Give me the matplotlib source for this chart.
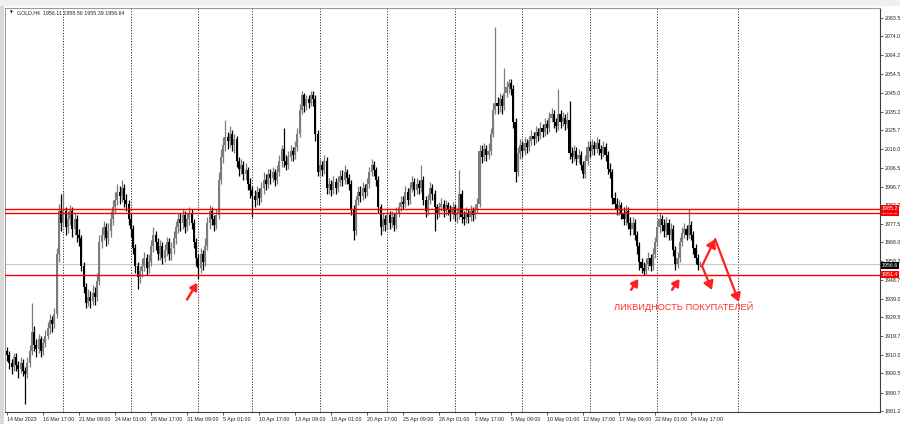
""" gold_h4.py """

import numpy as np
import matplotlib
matplotlib.use('Agg')
import matplotlib.pyplot as plt
import matplotlib.transforms as mtransforms

plt.rcParams['font.family'] = ['Liberation Sans', 'DejaVu Sans']

# H4 bars, 14 Mar 2023 01:00 .. 25 May 2023 (bar index = position on axis)
first_open = 1912
closes = [
    1910, 1906, 1904, 1909, 1905, 1903, 1906, 1902, 1900, 1906,
    1912, 1922, 1915, 1913, 1918, 1912, 1916, 1920, 1924, 1928,
    1926, 1931, 1962, 1984, 1978, 1984, 1976, 1980, 1984, 1975,
    1980, 1972, 1970, 1956, 1945, 1937, 1940, 1938, 1942, 1940,
    1948, 1968, 1972, 1976, 1970, 1974, 1980, 1986, 1990, 1994,
    1992, 1996, 1990, 1988, 1980, 1975, 1965, 1956, 1950, 1953,
    1956, 1960, 1955, 1958, 1966, 1972, 1968, 1962, 1966, 1960,
    1964, 1968, 1962, 1965, 1970, 1976, 1980, 1978, 1982, 1976,
    1980, 1983, 1978, 1968, 1960, 1955, 1962, 1958, 1966, 1978,
    1984, 1980, 1977, 1982, 2000, 2012, 2018, 2022, 2020, 2024,
    2018, 2021, 2010, 2006, 2008, 2003, 2005, 1998, 1995, 1992,
    1990, 1994, 1991, 1996, 2000, 1998, 2003, 2001, 2004, 2000,
    2004, 2010, 2016, 2010, 2008, 2012, 2015, 2013, 2017, 2024,
    2036, 2044, 2038, 2042, 2040, 2044, 2042, 2024, 2004, 2008,
    2005, 2010, 1996, 1998, 1995, 1999, 1996, 1999, 2002, 2000,
    2004, 2001, 1998, 1985, 1974, 1990, 1994, 1992, 1996, 1994,
    1998, 2004, 2008, 2005, 2000, 1986, 1976, 1980, 1977, 1982,
    1978, 1981, 1977, 1983, 1986, 1989, 1988, 1994, 1990, 1996,
    1999, 1995, 1998, 1996, 2000, 1990, 1984, 1990, 1996, 1993,
    1986, 1983, 1986, 1988, 1984, 1987, 1985, 1983, 1986, 1982,
    1983, 1993, 1981, 1980, 1983, 1981, 1984, 1982, 1985, 1988,
    2015, 2012, 2016, 2013, 2015, 2024, 2036, 2040, 2038, 2042,
    2038, 2045, 2048, 2050, 2047, 2030, 2004, 2014, 2018, 2015,
    2019, 2017, 2020, 2023, 2021, 2025, 2023, 2027, 2025, 2029,
    2027, 2032, 2034, 2030, 2028, 2034, 2030, 2032, 2029, 2031,
    2014, 2012, 2015, 2011, 2013, 2008, 2003, 2010, 2017, 2015,
    2018, 2016, 2019, 2016, 2014, 2017, 2013, 2006, 2004, 1991,
    1988, 1985, 1987, 1983, 1980, 1984, 1978, 1975, 1978, 1972,
    1966, 1958, 1955, 1953, 1957, 1960, 1956, 1962, 1968, 1976,
    1980, 1977, 1974, 1978, 1972, 1975, 1964, 1957, 1960, 1968,
    1973, 1975, 1972, 1977, 1972, 1965, 1960, 1956.11, 1956.64,
]
highs = [
    1914, 1912, 1908, 1911, 1911, 1907, 1909, 1908, 1904, 1909,
    1915, 1937, 1925, 1918, 1921, 1920, 1919, 1923, 1927, 1931,
    1930, 1934, 1965, 1988, 1993, 1994, 1986, 1984, 1987, 1986,
    1983, 1982, 1975, 1972, 1958, 1947, 1944, 1943, 1946, 1945,
    1952, 1972, 1976, 1979, 1978, 1978, 1984, 1990, 1994, 1998,
    1997, 2000, 1998, 1993, 1990, 1983, 1977, 1967, 1958, 1956,
    1960, 1963, 1962, 1962, 1969, 1976, 1974, 1970, 1969, 1968,
    1967, 1971, 1970, 1968, 1974, 1979, 1983, 1983, 1985, 1984,
    1983, 1986, 1985, 1980, 1970, 1962, 1965, 1964, 1970, 1981,
    1987, 1986, 1982, 1985, 2004, 2016, 2022, 2031, 2025, 2028,
    2026, 2024, 2023, 2012, 2011, 2010, 2009, 2007, 2001, 1997,
    1995, 1997, 1996, 1999, 2004, 2003, 2006, 2006, 2007, 2006,
    2008, 2013, 2018, 2027, 2013, 2015, 2018, 2017, 2020, 2027,
    2039, 2046, 2045, 2044, 2044, 2046, 2046, 2044, 2026, 2011,
    2010, 2013, 2012, 2001, 2000, 2002, 2001, 2002, 2005, 2005,
    2008, 2006, 2003, 2000, 1987, 1992, 1997, 1997, 1999, 1998,
    2001, 2007, 2011, 2010, 2007, 2002, 1988, 1983, 1982, 1985,
    1984, 1984, 1983, 1986, 1989, 1992, 1992, 1997, 1996, 1999,
    2002, 2001, 2001, 2000, 2008, 2002, 1992, 1993, 1999, 1998,
    1995, 1988, 1989, 1991, 1990, 1990, 1989, 1987, 1989, 1988,
    1986, 2005, 1995, 1984, 1986, 1985, 1987, 1986, 1988, 1991,
    2018, 2018, 2019, 2018, 2019, 2027, 2040, 2079, 2043, 2045,
    2044, 2058, 2051, 2052, 2052, 2049, 2032, 2017, 2021, 2020,
    2022, 2021, 2023, 2026, 2025, 2028, 2027, 2030, 2029, 2032,
    2031, 2035, 2037, 2036, 2032, 2047, 2036, 2035, 2034, 2035,
    2041, 2017, 2018, 2017, 2016, 2015, 2010, 2013, 2020, 2020,
    2021, 2020, 2022, 2021, 2018, 2020, 2019, 2015, 2009, 2006,
    1994, 1991, 1990, 1989, 1986, 1987, 1986, 1981, 1981, 1980,
    1974, 1968, 1960, 1958, 1960, 1963, 1962, 1965, 1971, 1979,
    1983, 1982, 1980, 1981, 1980, 1978, 1977, 1966, 1963, 1971,
    1976, 1978, 1977, 1985, 1979, 1974, 1967, 1962, 1958.56,
]
lows = [
    1907, 1903, 1900, 1902, 1902, 1898, 1901, 1899, 1885, 1898,
    1904, 1910, 1912, 1909, 1911, 1909, 1910, 1914, 1918, 1921,
    1922, 1924, 1929, 1958, 1974, 1976, 1972, 1973, 1977, 1971,
    1972, 1968, 1966, 1953, 1942, 1934, 1935, 1934, 1936, 1936,
    1938, 1946, 1965, 1969, 1966, 1967, 1971, 1977, 1983, 1987,
    1988, 1989, 1986, 1984, 1977, 1971, 1962, 1952, 1944, 1947,
    1950, 1953, 1951, 1952, 1956, 1963, 1964, 1959, 1959, 1957,
    1958, 1961, 1959, 1959, 1962, 1967, 1973, 1974, 1975, 1973,
    1974, 1977, 1975, 1965, 1956, 1949, 1952, 1954, 1956, 1964,
    1975, 1977, 1974, 1975, 1980, 1998, 2009, 2015, 2016, 2017,
    2015, 2014, 2007, 2002, 2003, 2000, 2000, 1995, 1991, 1981,
    1986, 1987, 1987, 1989, 1993, 1995, 1996, 1998, 1999, 1997,
    1998, 2002, 2007, 2007, 2005, 2006, 2010, 2010, 2011, 2015,
    2022, 2034, 2035, 2036, 2037, 2038, 2038, 2020, 2002, 2002,
    2002, 2003, 1993, 1993, 1992, 1993, 1993, 1994, 1997, 1997,
    1998, 1998, 1995, 1982, 1969, 1972, 1987, 1989, 1990, 1991,
    1992, 1996, 2002, 2002, 1997, 1983, 1972, 1974, 1974, 1975,
    1975, 1976, 1974, 1975, 1981, 1984, 1985, 1986, 1987, 1988,
    1994, 1992, 1993, 1993, 1994, 1987, 1981, 1982, 1988, 1990,
    1974, 1980, 1981, 1984, 1981, 1982, 1982, 1979, 1980, 1979,
    1978, 1980, 1978, 1977, 1978, 1978, 1979, 1979, 1980, 1983,
    1986, 2009, 2010, 2010, 2011, 2013, 2022, 2034, 2034, 2035,
    2034, 2036, 2043, 2045, 2044, 2027, 1999, 2002, 2011, 2012,
    2013, 2014, 2015, 2018, 2018, 2019, 2020, 2021, 2022, 2023,
    2024, 2025, 2030, 2027, 2025, 2026, 2027, 2028, 2026, 2027,
    2011, 2009, 2010, 2008, 2009, 2005, 2001, 2001, 2008, 2012,
    2013, 2013, 2014, 2013, 2011, 2012, 2010, 2003, 2001, 1988,
    1985, 1982, 1982, 1980, 1977, 1977, 1975, 1972, 1972, 1969,
    1962, 1954, 1952, 1951, 1951, 1954, 1953, 1954, 1960, 1966,
    1973, 1974, 1971, 1971, 1969, 1969, 1961, 1954, 1955, 1958,
    1966, 1970, 1969, 1970, 1969, 1962, 1957, 1954, 1955.39,
]

# time axis labels, every 16 bars
time_labels = ["14 Mar 2023", "16 Mar 17:00", "21 Mar 09:00", "24 Mar 01:00",
               "28 Mar 17:00", "31 Mar 09:00", "5 Apr 01:00", "10 Apr 17:00",
               "13 Apr 09:00", "18 Apr 01:00", "20 Apr 17:00", "25 Apr 09:00",
               "28 Apr 01:00", "2 May 17:00", "5 May 09:00", "10 May 01:00",
               "12 May 17:00", "17 May 09:00", "22 May 01:00", "24 May 17:00"]
label_step = 16
week_lines = [25, 55, 85, 109, 139, 169, 199, 229, 259, 289, 325]

price_ticks = [2083.5, 2074.0, 2064.2, 2054.5, 2045.0, 2035.2, 2025.7, 2016.0,
               2006.5, 1996.7, 1987.2, 1977.5, 1968.0, 1958.2, 1948.7, 1939.0,
               1929.5, 1919.7, 1910.0, 1900.5, 1890.7, 1881.2]

red_levels = [1983.2, 1985.2, 1951.4]
current_price = 1956.64
header = "GOLD,H4  1956.11 1958.56 1955.39 1956.64"
note_text = "ЛИКВИДНОСТЬ ПОКУПАТЕЛЕЙ"

# ---------------------------------------------------------------
closes = np.array(closes, dtype=float)
highs = np.array(highs, dtype=float)
lows = np.array(lows, dtype=float)
opens = np.concatenate([[first_open], closes[:-1]])
idx = np.arange(len(closes))
bull = closes >= opens
cols = np.where(bull, '#7c7c7c', '#000000')

W, H = 900, 424
fig = plt.figure(figsize=(W / 100, H / 100), dpi=100)
fig.patch.set_facecolor('white')
ax = fig.add_axes([5 / W, 12 / H, 875 / W, 404 / H])
ax.set_facecolor('white')

# left scroll strip / top toolbar hint
fig.patches.append(plt.Rectangle((0, 0), 4 / W, 1, transform=fig.transFigure,
                                 fc='#d9d9d9', ec='none', zorder=0))
fig.patches.append(plt.Rectangle((0, 1 - 6 / H), 1, 6 / H, transform=fig.transFigure,
                                 fc='#f0f0f0', ec='none', zorder=0))

ax.set_xlim(-0.9, 388)
ax.set_ylim(1880.67, 2088.65)

for wl in week_lines:
    ax.axvline(wl, color='#303030', lw=0.7, ls=(0, (1.2, 1.6)), zorder=1)

ax.axhline(current_price, color='#c8c8c8', lw=0.8, zorder=1)
for lv in red_levels:
    ax.axhline(lv, color='#ff0000', lw=1.0, zorder=4)

# candles
ax.vlines(idx, lows, highs, colors=cols, lw=0.9, zorder=2)
body_lo = np.minimum(opens, closes)
body_h = np.maximum(np.abs(closes - opens), 0.5)
ax.bar(idx, body_h, bottom=body_lo, width=0.9, color=cols, lw=0, zorder=3)

# axes styling
for s in ['left', 'top']:
    ax.spines[s].set_color('#9a9a9a')
    ax.spines[s].set_linewidth(0.8)
for s in ['right', 'bottom']:
    ax.spines[s].set_color('#404040')
    ax.spines[s].set_linewidth(0.8)

ax.yaxis.tick_right()
ax.set_yticks(price_ticks)
ax.set_yticklabels([f"{p:.1f}" for p in price_ticks])
ax.tick_params(axis='y', length=2, width=0.5, pad=1.5, labelsize=3.8, colors='#202020')

xt = np.arange(len(time_labels)) * label_step
ax.set_xticks(xt)
ax.set_xticklabels(time_labels, ha='left')
ax.tick_params(axis='x', length=2, width=0.5, pad=1.5, labelsize=3.8, colors='#202020')

# price boxes on the scale
trans = mtransforms.blended_transform_factory(ax.transAxes, ax.transData)
for lv in red_levels:
    ax.text(1.002, lv, f"{lv:.1f}", transform=trans, fontsize=3.8, color='white',
            va='center', ha='left', zorder=6, clip_on=False,
            bbox=dict(boxstyle='square,pad=0.2', fc='#ff0000', ec='none'))
ax.text(1.002, current_price - 0.6, f"{current_price:.1f}", transform=trans, fontsize=3.8,
        color='white', va='center', ha='left', zorder=6, clip_on=False,
        bbox=dict(boxstyle='square,pad=0.2', fc='#000000', ec='none'))

# header
ax.text(0.006, 0.993, "▼", transform=ax.transAxes, fontsize=2.6, va='top', ha='left',
        family='DejaVu Sans')
ax.text(0.014, 0.994, header, transform=ax.transAxes, fontsize=3.8, va='top', ha='left',
        color='#202020')

# annotations
red = '#ff2020'
small_head = '-|>,head_length=0.4,head_width=0.24'
big_head = '-|>,head_length=0.5,head_width=0.3'
small_arrows = [((80.0, 1938.6), (84.6, 1947.2)),
                ((277.4, 1943.6), (280.6, 1949.2)),
                ((295.6, 1943.6), (298.9, 1949.2))]
for tail, tip in small_arrows:
    ax.annotate('', xy=tip, xytext=tail, zorder=7,
                arrowprops=dict(arrowstyle=small_head, color=red, lw=1.8,
                                shrinkA=0, shrinkB=0))

start = (308.9, 1955.8)
peak = (314.7, 1969.7)
ax.annotate('', xy=(313.3, 1943.5), xytext=start, zorder=7,
            arrowprops=dict(arrowstyle=big_head, color=red, lw=1.6, shrinkA=0, shrinkB=0))
ax.annotate('', xy=peak, xytext=start, zorder=7,
            arrowprops=dict(arrowstyle=big_head, color=red, lw=1.6, shrinkA=0, shrinkB=0))
ax.annotate('', xy=(325.3, 1937.3), xytext=peak, zorder=7,
            arrowprops=dict(arrowstyle=big_head, color=red, lw=1.6, shrinkA=0, shrinkB=0))

ax.text(300.5, 1935.0, note_text, fontsize=6.7, color='#ff3030', ha='center',
        va='center', zorder=7)

fig.savefig('out.png', dpi=100)
